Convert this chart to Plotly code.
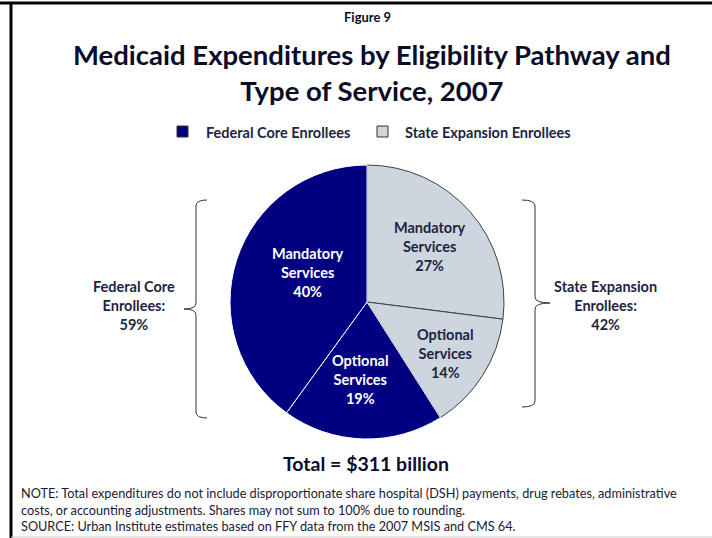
import math
import plotly.graph_objects as go

# Medicaid spending shares, 2007 (percent of $311 billion), clockwise from 12 o'clock
services = ["Mandatory Services", "Optional Services", "Optional Services", "Mandatory Services"]
groups = ["State Expansion Enrollees", "State Expansion Enrollees",
          "Federal Core Enrollees", "Federal Core Enrollees"]
shares = [27, 14, 19, 40]
group_totals = {"Federal Core Enrollees": 59, "State Expansion Enrollees": 42}
total_billion = 311

W, H = 712, 538
NAVY = "#000080"
LIGHT = "#CDD5DF"
INK = "#1C2541"
FONT = "Lato"

fill = [LIGHT if g.startswith("State") else NAVY for g in groups]
edge = ["#404040" if g.startswith("State") else "#FFFFFF" for g in groups]
label_ink = [INK if g.startswith("State") else "#FFFFFF" for g in groups]


def px(x, y):
    """Pixel position -> paper coordinates."""
    return x / W, 1 - y / H


# pie geometry in pixels
cx, cy, R = 367, 302, 137
dom_x = [(cx - R) / W, (cx + R) / W]
dom_y = [1 - (cy + R) / H, 1 - (cy - R) / H]

fig = go.Figure(go.Pie(
    labels=[f"{s} ({g})" for s, g in zip(services, groups)],
    values=shares,
    sort=False,
    direction="clockwise",
    rotation=0,
    textinfo="none",
    hoverinfo="label+percent",
    marker=dict(colors=fill, line=dict(color=edge, width=1)),
    domain=dict(x=dom_x, y=dom_y),
    showlegend=False,
))

annotations = []
shapes = []

# slice labels, placed along each slice's mid angle
radial = [0.61, 0.685, 0.57, 0.48]
nudge = [0, -1, -3, -9]
cum = 0
for s, v, r, d, c in zip(services, shares, radial, nudge, label_ink):
    mid = 90 - (cum + v / 2) / sum(shares) * 360 + d
    cum += v
    lx = cx + r * R * math.cos(math.radians(mid))
    ly = cy - r * R * math.sin(math.radians(mid))
    x, y = px(lx, ly)
    annotations.append(dict(
        x=x, y=y, xref="paper", yref="paper", showarrow=False,
        text="<br>".join(s.split(" ")) + f"<br>{v}%",
        font=dict(family=FONT, size=14.5, color=c, weight="bold"),
        align="center", xanchor="center", yanchor="middle",
    ))

# group labels beside the braces
for name, lx in [("Federal Core Enrollees", 134), ("State Expansion Enrollees", 605)]:
    first, last = name.rsplit(" ", 1)
    x, y = px(lx, 305)
    annotations.append(dict(
        x=x, y=y, xref="paper", yref="paper", showarrow=False,
        text=f"{first}<br>{last}:<br>{group_totals[name]}%",
        font=dict(family=FONT, size=14.5, color=INK, weight="bold"),
        align="center", xanchor="center", yanchor="middle",
    ))


def brace(points, cmds):
    parts = []
    i = 0
    for c in cmds:
        n = {"M": 1, "L": 1, "Q": 2}[c]
        coords = []
        for k in range(n):
            x, y = px(*points[i + k])
            coords.append(f"{x:.5f},{y:.5f}")
        parts.append(c + " " + " ".join(coords))
        i += n
    return " ".join(parts)


cmds = ["M", "Q", "L", "Q", "Q", "L", "Q"]
left_pts = [(207, 200), (196, 200), (196, 206), (196, 303), (196, 309), (184, 309),
            (196, 309), (196, 315), (196, 412), (196, 418), (207, 418)]
right_pts = [(522, 200), (535, 200), (535, 206), (535, 297), (535, 303), (550, 303),
             (535, 303), (535, 309), (535, 401), (535, 407), (522, 407)]
for pts in (left_pts, right_pts):
    shapes.append(dict(type="path", xref="paper", yref="paper",
                       path=brace(pts, cmds), line=dict(color="#333333", width=1)))

# legend: swatches and names
for name, sx, tx in [("Federal Core Enrollees", 177, 204), ("State Expansion Enrollees", 377, 403)]:
    x0, y0 = px(sx, 137)
    x1, y1 = px(sx + 11, 126)
    shapes.append(dict(type="rect", xref="paper", yref="paper", x0=x0, y0=y0, x1=x1, y1=y1,
                       fillcolor=NAVY if name.startswith("Federal") else LIGHT,
                       line=dict(color="#333333", width=1)))
    x, y = px(tx, 132)
    annotations.append(dict(
        x=x, y=y, xref="paper", yref="paper", showarrow=False, text=name,
        font=dict(family=FONT, size=14.5, color=INK, weight="bold"),
        xanchor="left", yanchor="middle",
    ))

# headings
x, y = px(367, 17)
annotations.append(dict(x=x, y=y, xref="paper", yref="paper", showarrow=False,
                        text="Figure 9", xanchor="center", yanchor="middle",
                        font=dict(family=FONT, size=13, color="#0B0B2A", weight="bold")))
x, y = px(372, 73)
annotations.append(dict(x=x, y=y, xref="paper", yref="paper", showarrow=False,
                        text="Medicaid Expenditures by Eligibility Pathway and<br>Type of Service, 2007",
                        xanchor="center", yanchor="middle", align="center",
                        font=dict(family=FONT, size=27.5, color="#0B0B2A", weight="bold")))

x, y = px(366, 463)
annotations.append(dict(x=x, y=y, xref="paper", yref="paper", showarrow=False,
                        text=f"Total = ${total_billion} billion", xanchor="center", yanchor="middle",
                        font=dict(family=FONT, size=19.5, color="#0B0B2A", weight="bold")))

notes = [
    "NOTE: Total expenditures do not include disproportionate share hospital (DSH) payments, drug rebates, administrative",
    "costs, or accounting adjustments. Shares may not sum to 100% due to rounding.",
    "SOURCE: Urban Institute estimates based on FFY data from the 2007 MSIS and CMS 64.",
]
x, y = px(19, 509)
annotations.append(dict(x=x, y=y, xref="paper", yref="paper", showarrow=False,
                        text="<br>".join(notes), xanchor="left", yanchor="middle", align="left",
                        font=dict(family=FONT, size=12.7, color="#1A1A33")))

# slide frame: heavy rule along the top and left, faint rule at the bottom
for (xa, ya, xb, yb, col, wd) in [(0, 3, 712, 3, "#000000", 3), (11, 3, 11, 538, "#000000", 3),
                                  (11, 537, 712, 537, "#D0D0D0", 1)]:
    a, b = px(xa, ya)
    c, d = px(xb, yb)
    shapes.append(dict(type="line", xref="paper", yref="paper", x0=a, y0=b, x1=c, y1=d,
                       line=dict(color=col, width=wd)))

fig.update_layout(
    width=W, height=H,
    margin=dict(l=0, r=0, t=0, b=0),
    paper_bgcolor="white", plot_bgcolor="white",
    annotations=annotations, shapes=shapes,
)
fig.write_html("out.html")
